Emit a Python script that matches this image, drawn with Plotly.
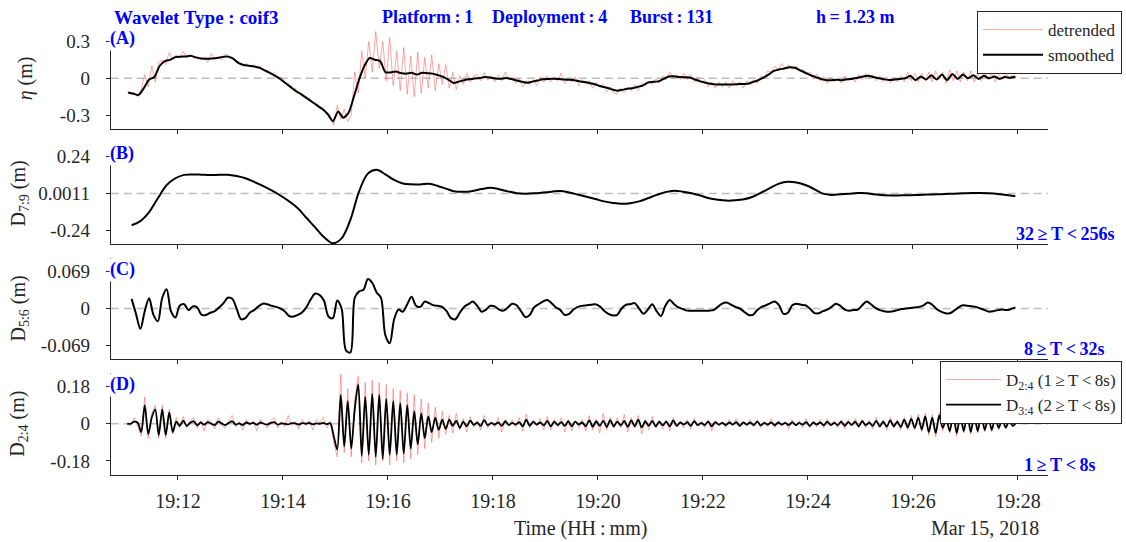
import numpy as np
import pandas as pd
import plotly.graph_objects as go

BASE = pd.Timestamp("2018-03-15 19:11:00")

# ---------------- data ----------------
# Panel A: detrended surface elevation, samples every 4 s from 19:11:02
eta_detrended = [
    -0.11, -0.13, -0.115, -0.15, -0.09, 0.03, -0.07, 0.10, -0.03, 0.13,
    0.15, 0.11, 0.21, 0.16, 0.19, 0.165, 0.22, 0.17, 0.19, 0.16,
    0.18, 0.15, 0.17, 0.13, 0.20, 0.155, 0.17, 0.15, 0.20, 0.18,
    0.17, 0.13, 0.12, 0.10, 0.12, 0.095, 0.11, 0.085, 0.10, 0.065,
    0.065, 0.03, 0.045, 0.005, 0.01, -0.035, -0.04, -0.085, -0.08, -0.125,
    -0.125, -0.165, -0.16, -0.20, -0.205, -0.245, -0.24, -0.29, -0.30, -0.38,
    -0.22, -0.33, -0.25, -0.35, -0.30, 0.05, -0.12, 0.22, 0.00, 0.30,
    0.05, 0.38, 0.08, 0.30, -0.02, 0.33, -0.06, 0.22, -0.10, 0.25,
    -0.13, 0.18, -0.15, 0.21, -0.12, 0.17, -0.08, 0.19, -0.10, 0.12,
    -0.05, 0.11, -0.08, 0.05, -0.09, 0.02, -0.05, 0.04, -0.03, 0.02,
    0.03, -0.02, 0.045, -0.015, 0.02, -0.03, 0.025, -0.02, 0.05, -0.01,
    0.01, -0.04, 0.00, -0.07, -0.02, -0.05, -0.01, -0.06, 0.01, -0.03,
    0.02, -0.03, 0.01, -0.02, 0.04, -0.04, 0.00, -0.03, 0.01, -0.06,
    -0.01, -0.05, -0.02, -0.08, -0.03, -0.07, -0.05, -0.11, -0.07, -0.12,
    -0.13, -0.08, -0.115, -0.07, -0.10, -0.05, -0.10, -0.04, -0.06, -0.02,
    -0.05, 0.00, -0.04, 0.02, -0.01, 0.05, 0.00, 0.03, -0.01, 0.04,
    -0.01, 0.03, -0.03, 0.01, -0.04, -0.01, -0.07, -0.03, -0.08, -0.03,
    -0.07, -0.03, -0.08, -0.02, -0.06, -0.03, -0.08, -0.02, -0.05, -0.01,
    -0.04, 0.02, 0.00, 0.06, 0.05, 0.10, 0.07, 0.12, 0.08, 0.11,
    0.07, 0.10, 0.06, 0.075, 0.03, 0.05, 0.00, 0.035, -0.02, 0.015,
    -0.04, 0.01, -0.03, 0.00, -0.04, 0.02, -0.02, 0.01, -0.03, 0.03,
    -0.01, 0.04, 0.00, 0.03, -0.02, 0.02, -0.03, 0.01, -0.04, 0.01,
    -0.03, 0.02, -0.03, 0.05, -0.02, 0.04, -0.03, 0.04, -0.02, 0.05,
    -0.03, 0.06, -0.01, 0.05, -0.04, 0.07, -0.02, 0.06, -0.03, 0.05,
    -0.02, 0.06, -0.03, 0.04, -0.02, 0.05, -0.01, 0.04, -0.03, 0.03,
    -0.01, 0.04, 0.00, 0.03, 0.01,
]
# Panel A: smoothed surface elevation, samples every 6 s from 19:11:03
eta_smoothed = [
    -0.115, -0.125, -0.135, -0.08, -0.01, 0.01, 0.10, 0.14, 0.15, 0.172,
    0.175, 0.178, 0.182, 0.168, 0.16, 0.158, 0.16, 0.165, 0.174, 0.176,
    0.16, 0.125, 0.108, 0.102, 0.096, 0.086, 0.065, 0.044, 0.02, -0.006,
    -0.04, -0.072, -0.105, -0.13, -0.16, -0.19, -0.22, -0.25, -0.29, -0.35,
    -0.27, -0.32, -0.28, -0.15, -0.01, 0.10, 0.165, 0.15, 0.14, 0.05,
    0.048, 0.055, 0.042, 0.038, 0.045, 0.03, 0.045, 0.042, 0.038, 0.026,
    0.012, -0.01, -0.038, -0.027, -0.015, -0.008, -0.002, 0.003, 0.01, 0.006,
    -0.002, -0.004, 0.003, -0.006, -0.018, -0.028, -0.037, -0.027, -0.018, -0.008,
    -0.005, -0.004, -0.006, -0.01, -0.012, -0.015, -0.025, -0.03, -0.04, -0.05,
    -0.065, -0.075, -0.088, -0.10, -0.095, -0.085, -0.08, -0.07, -0.06, -0.035,
    -0.028, -0.025, -0.005, 0.015, 0.016, 0.01, 0.008, 0.006, -0.01, -0.025,
    -0.036, -0.045, -0.05, -0.05, -0.05, -0.05, -0.048, -0.046, -0.045, -0.03,
    -0.016, 0.005, 0.03, 0.06, 0.072, 0.08, 0.09, 0.085, 0.065, 0.045,
    0.025, 0.01, -0.005, -0.015, -0.015, -0.012, -0.015, -0.008, -0.003, 0.005,
    0.015, 0.02, 0.01, 0.0, -0.008, -0.014, -0.01, -0.005, 0.0, 0.02,
    -0.015, 0.015, -0.01, 0.025, -0.01, 0.03, -0.015, 0.035, -0.005, 0.03,
    0.0, 0.025, -0.005, 0.02, 0.0, 0.015, -0.005, 0.01, 0.005, 0.012,
]
# Panel B: D7:9 detail, samples every 10 s from 19:11:07
d79 = [
    -0.205, -0.178, -0.12, -0.03, 0.055, 0.1, 0.122, 0.125, 0.123, 0.121,
    0.122, 0.123, 0.114, 0.1, 0.076, 0.05, 0.021, -0.012, -0.05, -0.095,
    -0.158, -0.22, -0.283, -0.322, -0.29, -0.17, 0.015, 0.13, 0.155, 0.125,
    0.089, 0.066, 0.061, 0.06, 0.064, 0.05, 0.031, 0.014, 0.012, 0.018,
    0.03, 0.038, 0.029, 0.015, 0.003, 0.0, 0.002, 0.007, 0.013, 0.018,
    0.008, -0.006, -0.02, -0.035, -0.05, -0.06, -0.066, -0.062, -0.05, -0.03,
    -0.008, 0.01, 0.019, 0.013, 0.003, -0.012, -0.03, -0.04, -0.045, -0.043,
    -0.036, -0.02, 0.008, 0.038, 0.065, 0.077, 0.072, 0.056, 0.03, 0.0,
    -0.008, -0.004, 0.0, 0.004, 0.003, -0.005, -0.011, -0.012, -0.011, -0.01,
    -0.008, -0.006, -0.004, -0.002, 0.0, 0.002, 0.004, 0.004, 0.002, -0.002,
    -0.008, -0.016,
]
# Panel C: D5:6 detail, samples every 5 s from 19:11:07
d56 = [
    0.018, -0.01, -0.038, -0.005, 0.019, -0.012, -0.024, 0.02, 0.036, -0.005,
    -0.017, 0.005, 0.008, -0.003, 0.004, 0.002, -0.012, -0.012, -0.008, -0.005,
    0.002, 0.01, 0.02, 0.018, 0.0, -0.02, -0.018, -0.008, -0.003, 0.004,
    0.009, 0.008, 0.005, 0.003, 0.0, -0.005, -0.014, -0.015, -0.012, -0.007,
    0.003, 0.018, 0.028, 0.025, 0.014, -0.015, -0.018, 0.015, 0.0, -0.078,
    -0.082, 0.02, 0.032, 0.035, 0.055, 0.048, 0.03, 0.02, -0.05, -0.065,
    -0.02, -0.002, -0.006, 0.008, 0.022, 0.005, 0.003, 0.013, 0.01, 0.006,
    0.005, 0.003, -0.005, -0.018, -0.02, -0.008, 0.003, 0.008, 0.013, 0.005,
    -0.006, -0.002, 0.005, 0.004, -0.002, -0.004, 0.002, 0.009, 0.006, -0.005,
    -0.016, -0.012, 0.002, 0.008, 0.013, 0.016, 0.01, 0.002, -0.003, -0.012,
    -0.01, -0.002, 0.003, 0.005, 0.006, 0.007, 0.008, 0.004, -0.004, -0.01,
    -0.013, -0.012, 0.0, 0.007, 0.008, 0.01, 0.0, -0.01, -0.002, 0.008,
    -0.005, -0.014, 0.005, 0.016, 0.008, 0.002, -0.001, -0.004, -0.004, -0.004,
    -0.004, -0.004, -0.004, -0.003, 0.003, 0.009, 0.011, 0.007, 0.003, 0.0,
    -0.006, -0.012, -0.012, -0.003, 0.003, 0.006, 0.01, 0.013, 0.006, -0.01,
    -0.008, 0.006, 0.009, 0.007, 0.006, 0.0, -0.008, -0.009, -0.005, -0.002,
    0.003, 0.009, 0.005, -0.002, -0.004, -0.003, -0.002, 0.006, 0.013, 0.008,
    0.001, -0.003, -0.005, -0.006, -0.005, -0.003, -0.001, 0.0, 0.001, 0.002,
    0.003, 0.006, 0.011, 0.007, -0.001, -0.006, -0.009, -0.009, -0.004, 0.002,
    0.006, 0.005, 0.004, 0.003, 0.0, -0.003, -0.006, -0.005, -0.003, -0.002,
    -0.003, -0.001, 0.002,
]
# Panel D: D2:4 (red) and D3:4 (black), samples every 4 s from 19:11:02
d24 = [
    0.0, -0.01, 0.03, -0.02, -0.06, 0.13, -0.07, 0.05, 0.09, -0.07,
    0.09, -0.07, 0.07, -0.05, 0.03, -0.02, 0.035, -0.02, 0.015, 0.03,
    -0.02, 0.015, -0.035, 0.02, 0.01, -0.025, 0.03, -0.01, -0.02, 0.015,
    0.04, -0.015, 0.01, -0.03, 0.02, -0.01, 0.015, -0.035, 0.02, 0.005,
    -0.02, 0.015, 0.03, -0.02, 0.01, -0.015, 0.04, -0.01, 0.01, -0.025,
    0.02, -0.01, 0.015, -0.03, 0.02, 0.005, 0.03, -0.02, 0.01, -0.09,
    -0.16, 0.24, -0.14, 0.17, -0.16, 0.12, 0.23, -0.19, 0.20, -0.18,
    0.21, -0.20, 0.20, -0.18, 0.19, -0.20, 0.17, -0.18, 0.16, -0.19,
    0.15, -0.17, 0.14, -0.15, 0.12, -0.12, 0.10, -0.09, 0.08, -0.07,
    0.06, -0.05, 0.04, -0.045, 0.05, -0.03, 0.025, -0.04, 0.035, -0.015,
    0.015, -0.03, 0.04, -0.02, 0.01, -0.015, 0.03, -0.04, 0.02, -0.01,
    0.02, -0.015, 0.03, -0.035, 0.045, -0.02, 0.015, -0.01, 0.025, -0.03,
    0.035, -0.03, 0.02, -0.015, 0.03, -0.04, 0.02, -0.035, 0.015, -0.02,
    0.02, -0.035, 0.04, -0.03, 0.02, -0.045, 0.05, -0.03, 0.03, -0.02,
    0.03, -0.02, 0.045, -0.04, 0.03, -0.02, 0.04, -0.05, 0.02, -0.03,
    0.035, -0.02, 0.015, -0.025, 0.02, -0.035, 0.03, -0.015, 0.01, -0.02,
    0.02, -0.025, 0.025, -0.01, 0.01, -0.02, 0.02, -0.035, 0.015, -0.01,
    0.01, -0.02, 0.02, -0.01, 0.025, -0.015, 0.01, -0.01, 0.02, -0.015,
    0.02, -0.02, 0.01, -0.015, 0.025, -0.02, 0.015, -0.01, 0.01, -0.025,
    0.02, -0.01, 0.015, -0.02, 0.025, -0.02, 0.01, -0.015, 0.02, -0.02,
    0.025, -0.01, 0.015, -0.02, 0.02, -0.025, 0.02, -0.01, 0.025, -0.02,
    0.02, -0.02, 0.015, -0.025, 0.03, -0.02, 0.02, -0.03, 0.03, -0.02,
    0.02, -0.03, 0.03, -0.03, 0.04, -0.03, 0.045, -0.04, 0.05, -0.055,
    0.045, -0.065, 0.055, -0.035, 0.035, -0.045, 0.06, -0.06, 0.05, -0.045,
    0.065, -0.05, 0.05, -0.045, 0.055, -0.04, 0.045, -0.04, 0.04, -0.03,
    0.025, -0.025, 0.02, -0.015, 0.01,
]
d34 = [
    0.0, 0.0, 0.01, 0.005, -0.04, 0.09, -0.05, 0.03, 0.07, -0.055,
    0.07, -0.055, 0.055, -0.04, 0.01, -0.01, 0.015, -0.01, 0.005, 0.012,
    -0.008, 0.006, -0.005, 0.008, 0.0, -0.006, 0.01, 0.002, -0.006, 0.004,
    0.012, -0.004, 0.002, -0.006, 0.006, 0.0, 0.004, -0.005, 0.006, 0.0,
    -0.004, 0.004, 0.008, -0.004, 0.002, 0.0, -0.003, 0.003, 0.002, -0.004,
    0.003, 0.0, 0.004, -0.003, 0.002, 0.0, 0.004, -0.002, 0.003, -0.06,
    -0.125, 0.14, -0.11, 0.11, -0.12, 0.07, 0.19, -0.155, 0.13, -0.15,
    0.145, -0.16, 0.14, -0.17, 0.12, -0.15, 0.11, -0.15, 0.10, -0.145,
    0.09, -0.12, 0.06, -0.10, 0.05, -0.07, 0.035, -0.04, 0.03, -0.03,
    0.02, -0.025, 0.02, -0.01, 0.015, -0.02, 0.01, -0.012, 0.015, -0.005,
    0.005, -0.01, 0.018, -0.008, 0.004, -0.004, 0.006, -0.01, 0.012, -0.006,
    0.004, -0.004, 0.008, -0.012, 0.02, -0.01, 0.01, -0.004, 0.006, -0.008,
    0.014, -0.012, 0.01, -0.006, 0.008, -0.01, 0.012, -0.012, 0.01, -0.004,
    0.006, -0.012, 0.016, -0.014, 0.012, -0.01, 0.014, -0.016, 0.018, -0.012,
    0.01, -0.008, 0.014, -0.015, 0.016, -0.012, 0.02, -0.018, 0.012, -0.01,
    0.014, -0.012, 0.01, -0.008, 0.01, -0.012, 0.016, -0.01, 0.006, -0.004,
    0.008, -0.01, 0.012, -0.008, 0.004, -0.006, 0.01, -0.012, 0.008, -0.004,
    0.004, -0.006, 0.006, -0.004, 0.008, -0.01, 0.006, -0.004, 0.006, -0.006,
    0.01, -0.008, 0.004, -0.004, 0.006, -0.008, 0.006, -0.004, 0.004, -0.006,
    0.008, -0.006, 0.004, -0.004, 0.008, -0.01, 0.006, -0.004, 0.006, -0.008,
    0.01, -0.006, 0.004, -0.006, 0.01, -0.01, 0.008, -0.006, 0.01, -0.012,
    0.012, -0.008, 0.006, -0.01, 0.014, -0.012, 0.01, -0.014, 0.016, -0.012,
    0.01, -0.016, 0.02, -0.018, 0.024, -0.02, 0.03, -0.028, 0.036, -0.04,
    0.03, -0.045, 0.04, -0.02, 0.02, -0.035, 0.045, -0.045, 0.04, -0.035,
    0.048, -0.04, 0.04, -0.035, 0.045, -0.03, 0.035, -0.03, 0.03, -0.02,
    0.02, -0.018, 0.015, -0.01, 0.005,
]

tick_labels = ["19:12", "19:14", "19:16", "19:18", "19:20", "19:22", "19:24", "19:26", "19:28"]
tick_minutes = [12, 14, 16, 18, 20, 22, 24, 26, 28]
ytick_vals = [[-0.3, 0, 0.3], [-0.24, 0.0011, 0.24], [-0.069, 0, 0.069], [-0.18, 0, 0.18]]
ytick_text = [["-0.3", "0", "0.3"], ["-0.24", "0.0011", "0.24"], ["-0.069", "0", "0.069"], ["-0.18", "0", "0.18"]]
yranges = [[-0.41, 0.41], [0.0011 - 0.3276, 0.0011 + 0.3276], [-0.0942, 0.0942], [-0.2457, 0.2457]]
zero_levels = [0, 0.0011, 0, 0]
ytitles = ["<i>η</i> (m)", "D<sub>7:9</sub> (m)", "D<sub>5:6</sub> (m)", "D<sub>2:4</sub> (m)"]
panel_tags = ["(A)", "(B)", "(C)", "(D)"]
band_labels = [None, "32\u2009≥\u2009T\u2009<\u2009256s", "8\u2009≥\u2009T\u2009<\u200932s", "1\u2009≥\u2009T\u2009<\u20098s"]


def times(start, step, n):
    return BASE + pd.to_timedelta(start + step * np.arange(n), unit="s")


# ---------------- layout constants (pixels) ----------------
W, H = 1126, 542
X0, X1 = 110.7, 1048.0
panels_px = [(27.8, 128.8), (143.0, 244.0), (258.0, 359.0), (373.0, 474.5)]
ytitle_x = [25, 19, 19, 19]
FONT = "Liberation Serif"
AX = "#262626"
BLUE = "#0000ff"
FS = 20


def px(x):
    return x / W


def py(y):
    return 1 - y / H


xr = [BASE + pd.Timedelta(seconds=-16.9), BASE + pd.Timedelta(seconds=1054.3)]
tickvals = [BASE.normalize() + pd.Timedelta(hours=19, minutes=m) for m in tick_minutes]

RED = "rgba(255,80,80,0.5)"

fig = go.Figure()
fig.add_trace(go.Scatter(x=times(2, 4, len(eta_detrended)), y=eta_detrended, mode="lines",
                         line=dict(color=RED, width=1), name="detrended",
                         xaxis="x", yaxis="y", legend="legend"))
fig.add_trace(go.Scatter(x=times(3, 6, len(eta_smoothed)), y=eta_smoothed, mode="lines",
                         line=dict(color="black", width=2, shape="spline", smoothing=0.6),
                         name="smoothed", xaxis="x", yaxis="y", legend="legend"))
fig.add_trace(go.Scatter(x=times(7, 10, len(d79)), y=d79, mode="lines",
                         line=dict(color="black", width=2, shape="spline"),
                         showlegend=False, xaxis="x2", yaxis="y2"))
fig.add_trace(go.Scatter(x=times(7, 5, len(d56)), y=d56, mode="lines",
                         line=dict(color="black", width=2, shape="spline", smoothing=0.9),
                         showlegend=False, xaxis="x3", yaxis="y3"))
fig.add_trace(go.Scatter(x=times(2, 4, len(d24)), y=d24, mode="lines",
                         line=dict(color=RED, width=1),
                         name="D<sub>2:4</sub> (1\u2009≥\u2009T\u2009<\u20098s)",
                         xaxis="x4", yaxis="y4", legend="legend2"))
fig.add_trace(go.Scatter(x=times(2, 4, len(d34)), y=d34, mode="lines",
                         line=dict(color="black", width=1.8, shape="spline", smoothing=0.8),
                         name="D<sub>3:4</sub> (2\u2009≥\u2009T\u2009<\u20098s)",
                         xaxis="x4", yaxis="y4", legend="legend2"))

layout = dict(
    width=W, height=H, template="none",
    margin=dict(l=0, r=0, t=0, b=0, pad=0),
    paper_bgcolor="white", plot_bgcolor="white",
    font=dict(family=FONT, size=FS, color=AX),
    showlegend=True,
)
shapes = []
annotations = []
for i in range(4):
    sfx = "" if i == 0 else str(i + 1)
    top, bot = panels_px[i]
    layout["xaxis" + sfx] = dict(
        domain=[px(X0), px(X1)], range=xr, type="date", anchor="y" + sfx,
        tickvals=tickvals, ticktext=tick_labels, showticklabels=(i == 3),
        showline=True, linecolor=AX, linewidth=1, ticks="outside", ticklen=4,
        tickcolor=AX, showgrid=False, zeroline=False, automargin=False,
        tickfont=dict(family=FONT, size=FS, color=AX), ticklabelstandoff=4,
    )
    layout["yaxis" + sfx] = dict(
        domain=[py(bot), py(top)], range=yranges[i], anchor="x" + sfx,
        tickvals=ytick_vals[i], ticktext=ytick_text[i],
        showline=True, linecolor=AX, linewidth=1, ticks="outside", ticklen=4,
        tickcolor=AX, showgrid=False, zeroline=False, automargin=False,
        tickfont=dict(family=FONT, size=19, color=AX), ticklabelstandoff=12,
    )
    shapes.append(dict(type="line", xref="x" + sfx + " domain", yref="y" + sfx,
                       x0=0, x1=1, y0=zero_levels[i], y1=zero_levels[i], layer="below",
                       line=dict(color="#bdbdbd", width=1.5, dash="8px,5px")))
    # y-axis title
    annotations.append(dict(x=px(ytitle_x[i]), y=py((top + bot) / 2), xref="paper", yref="paper",
                            text=ytitles[i], textangle=-90, showarrow=False,
                            font=dict(family=FONT, size=FS, color=AX),
                            xanchor="center", yanchor="middle"))
    # panel tag with white background covering the axis top
    annotations.append(dict(x=px(108.5), y=py(top - 0.5), xref="paper", yref="paper",
                            text="<b>" + panel_tags[i] + "</b>", showarrow=False,
                            font=dict(family=FONT, size=18, color=BLUE),
                            xanchor="left", yanchor="top", align="left", valign="top",
                            width=36, height=22, bgcolor="white", borderpad=0))
    if band_labels[i]:
        annotations.append(dict(x=px(1014 if i == 1 else 1022), y=py(bot - 10), xref="paper", yref="paper",
                                text="<b>" + band_labels[i] + "</b>", showarrow=False,
                                font=dict(family=FONT, size=18, color=BLUE),
                                xanchor="left", yanchor="middle"))

# header texts
header = [("Wavelet Type : coif3", 112, 19), ("Platform\u2009:\u20091", 380, 18),
          ("Deployment\u2009:\u20094", 490, 18), ("Burst\u2009:\u2009131", 628, 18),
          ("h\u2009=\u20091.23 m", 814, 18)]
for txt, x, fs in header:
    annotations.append(dict(x=px(x), y=py(17.5), xref="paper", yref="paper",
                            text="<b>" + txt + "</b>", showarrow=False,
                            font=dict(family=FONT, size=fs, color=BLUE),
                            xanchor="left", yanchor="middle"))
annotations.append(dict(x=px(580), y=py(528), xref="paper", yref="paper",
                        text="Time (HH\u2009:\u2009mm)", showarrow=False,
                        font=dict(family=FONT, size=FS, color=AX), xanchor="center", yanchor="middle"))
annotations.append(dict(x=px(1041), y=py(528), xref="paper", yref="paper",
                        text="Mar 15, 2018", showarrow=False,
                        font=dict(family=FONT, size=FS, color=AX), xanchor="right", yanchor="middle"))

layout["shapes"] = shapes
layout["annotations"] = annotations
layout["legend"] = dict(x=px(1122), xanchor="right", y=py(11), yanchor="top",
                        bgcolor="white", bordercolor=AX, borderwidth=1,
                        font=dict(family=FONT, size=17, color=AX), itemwidth=60,
                        tracegroupgap=0)
layout["legend2"] = dict(x=px(1122), xanchor="right", y=py(361), yanchor="top",
                         bgcolor="white", bordercolor=AX, borderwidth=1,
                         font=dict(family=FONT, size=17, color=AX), itemwidth=55,
                         tracegroupgap=0)
fig.update_layout(**layout)
fig.write_html("out.html")
